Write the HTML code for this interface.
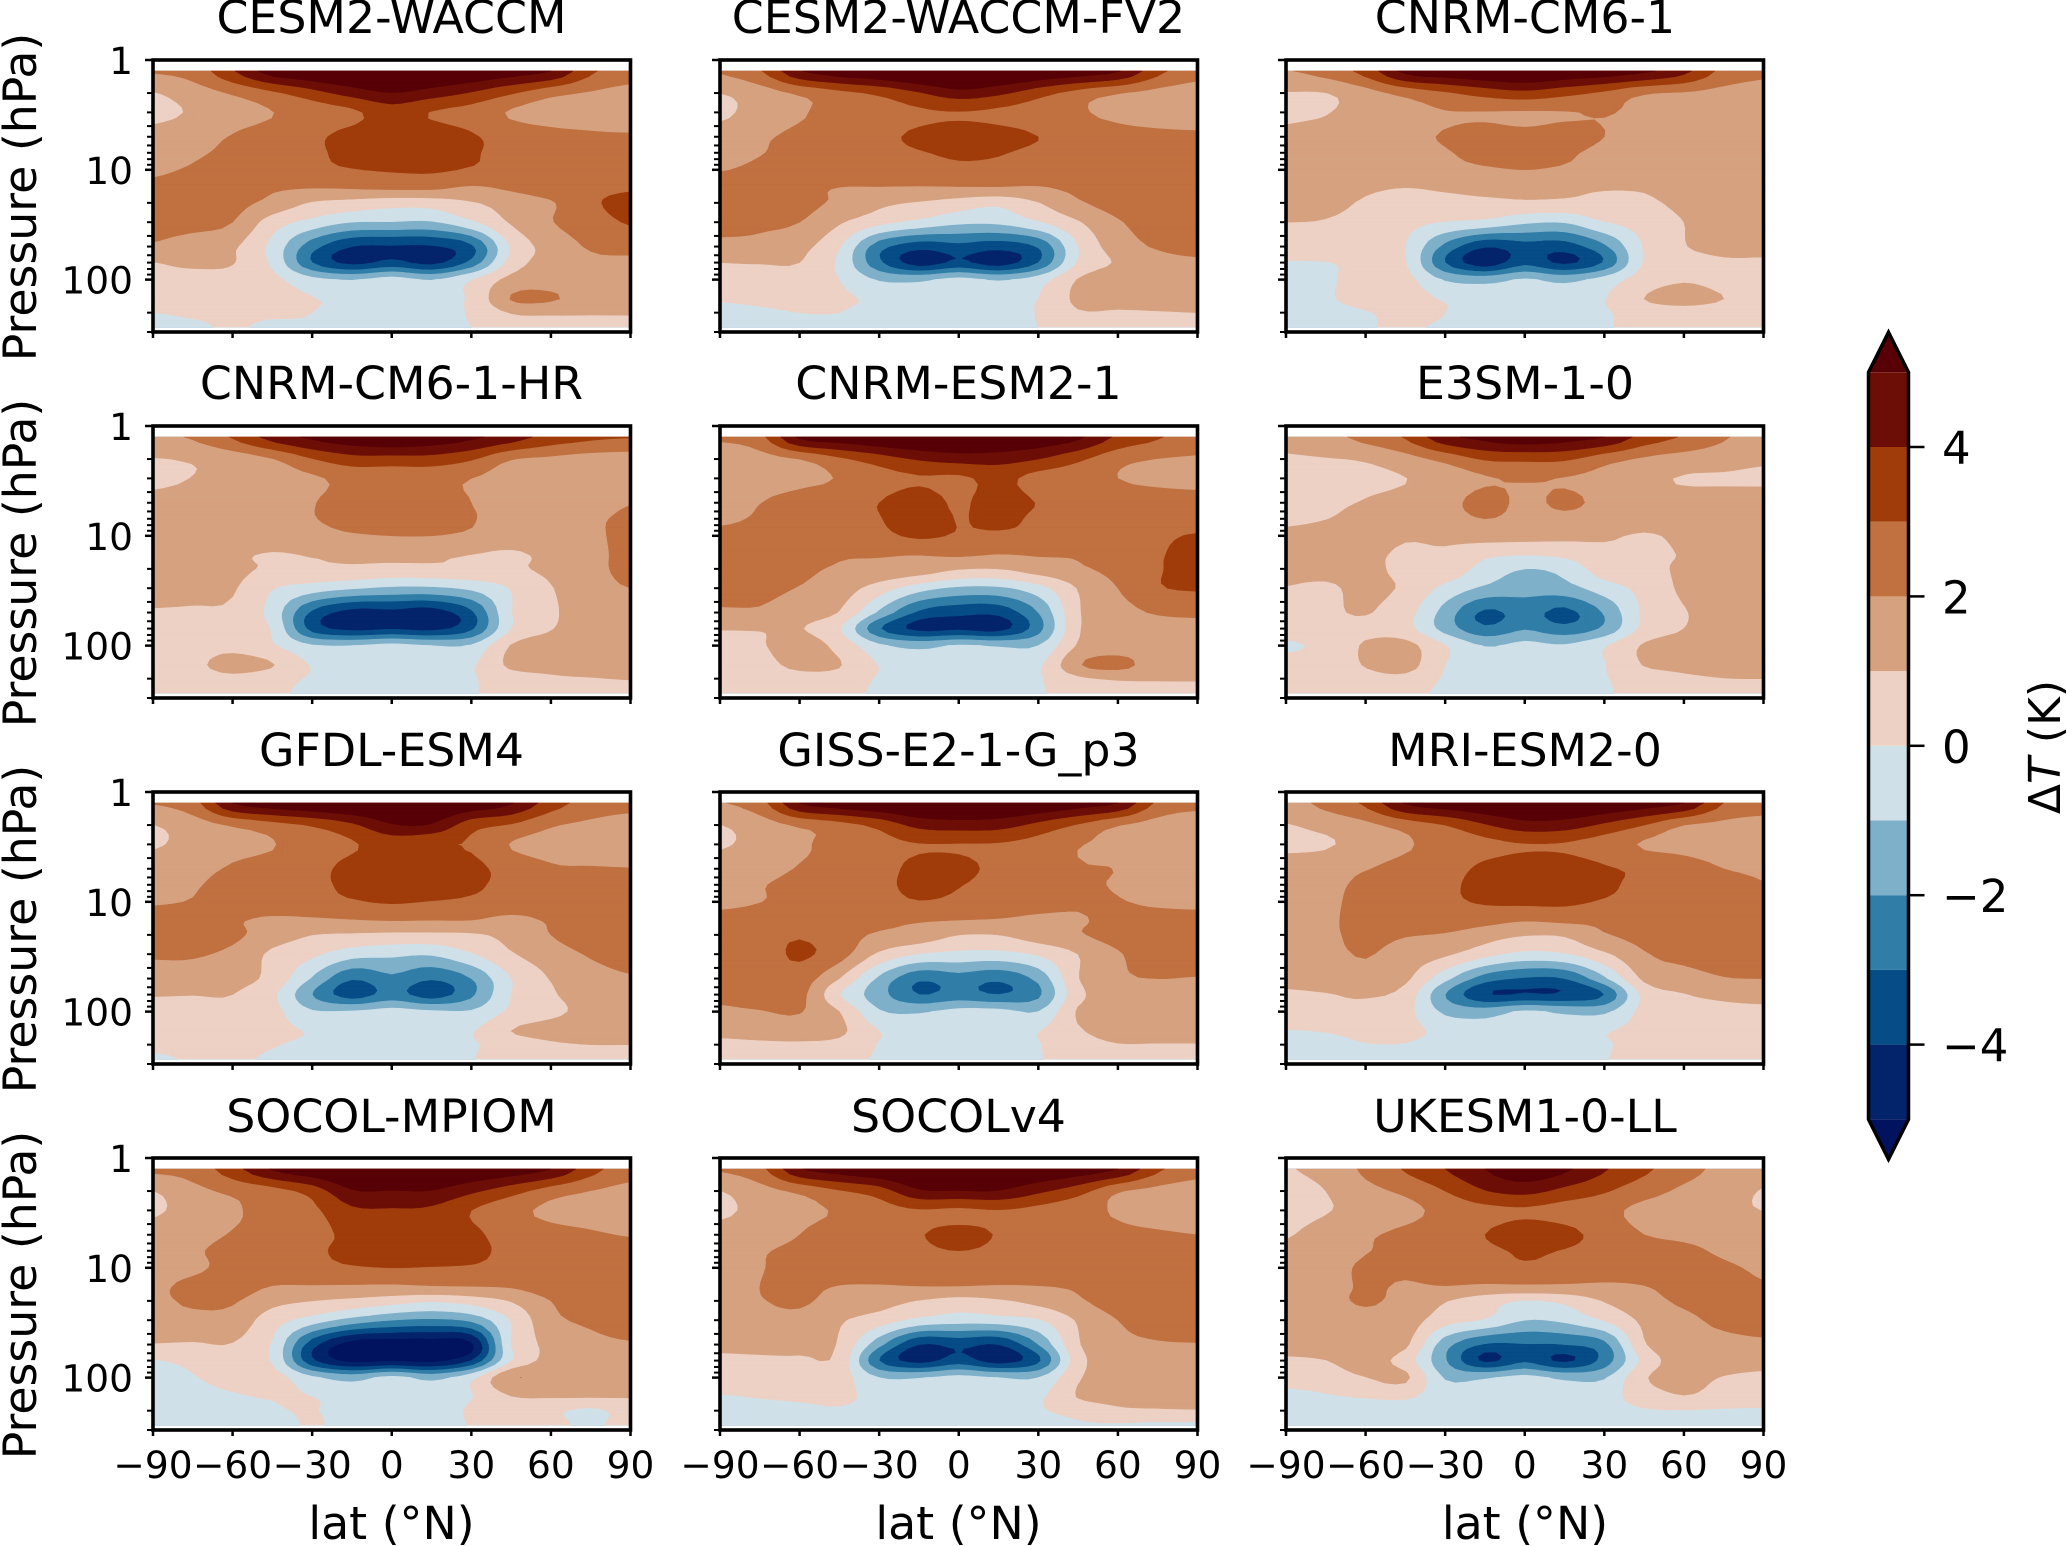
<!DOCTYPE html>
<html lang="en">
<head>
<meta charset="utf-8">
<title>Zonal-mean temperature change by model</title>
<style>
html,body{margin:0;padding:0;background:#fff;width:2067px;height:1546px;overflow:hidden}
svg{display:block}
text{font-family:"DejaVu Sans","Liberation Sans",sans-serif;fill:#000}
.title,.axis-label{font-size:45.8px}
.colorbar-title{font-size:44px}
.tick{font-size:37.5px}
.cbar-tick{font-size:45px}
</style>
</head>
<body>
<svg id="chart" width="2067" height="1546" viewBox="0 0 2067 1546">
  <g class="panel"><text class="title" x="391.5" y="33" text-anchor="middle">CESM2-WACCM</text></g>
  <g class="panel"><text class="title" x="958.5" y="33" text-anchor="middle">CESM2-WACCM-FV2</text></g>
  <g class="panel"><text class="title" x="1525" y="33" text-anchor="middle">CNRM-CM6-1</text></g>
  <g class="panel"><text class="title" x="391.5" y="399" text-anchor="middle">CNRM-CM6-1-HR</text></g>
  <g class="panel"><text class="title" x="958.5" y="399" text-anchor="middle">CNRM-ESM2-1</text></g>
  <g class="panel"><text class="title" x="1525" y="399" text-anchor="middle">E3SM-1-0</text></g>
  <g class="panel"><text class="title" x="391.5" y="766" text-anchor="middle">GFDL-ESM4</text></g>
  <g class="panel"><text class="title" x="958.5" y="766" text-anchor="middle">GISS-E2-1-G_p3</text></g>
  <g class="panel"><text class="title" x="1525" y="766" text-anchor="middle">MRI-ESM2-0</text></g>
  <g class="panel"><text class="title" x="391.5" y="1132" text-anchor="middle">SOCOL-MPIOM</text></g>
  <g class="panel"><text class="title" x="958.5" y="1132" text-anchor="middle">SOCOLv4</text></g>
  <g class="panel"><text class="title" x="1525" y="1132" text-anchor="middle">UKESM1-0-LL</text></g>

  <text class="axis-label" transform="translate(36,197) rotate(-90)" text-anchor="middle">Pressure (hPa)</text>
  <text class="axis-label" transform="translate(36,563) rotate(-90)" text-anchor="middle">Pressure (hPa)</text>
  <text class="axis-label" transform="translate(36,929) rotate(-90)" text-anchor="middle">Pressure (hPa)</text>
  <text class="axis-label" transform="translate(36,1295) rotate(-90)" text-anchor="middle">Pressure (hPa)</text>

  <text class="axis-label" x="391.5" y="1539" text-anchor="middle">lat (°N)</text>
  <text class="axis-label" x="958.5" y="1539" text-anchor="middle">lat (°N)</text>
  <text class="axis-label" x="1525" y="1539" text-anchor="middle">lat (°N)</text>

  <g id="colorbar"></g>
  <text class="colorbar-title" transform="translate(2060,747) rotate(-90)" text-anchor="middle">Δ<tspan font-style="italic">T</tspan> (K)</text>
</svg>
<script>
const latitudes = [-90,-75,-60,-45,-30,-15,0,15,30,45,60,75,90];
const pressures = [1.26,2,3,5,7,10,15,20,30,50,70,100,150,200,270];
const levels = [-5,-4,-3,-2,-1,0,1,2,3,4,5];
const bandColors = ['#01125e','#03236b','#064c86','#307ea8','#7fb0ca','#cfe0e9','#edd1c4','#d6a17f','#c17040','#a03c0a','#6d0e06','#570006'];
const xTickValues = [-90,-60,-30,0,30,60,90];
const xTickLabels = ['\u221290','\u221260','\u221230','0','30','60','90'];
const yMajorValues = [1,10,100];
const yMajorLabels = ['1','10','100'];
const yMinorValues = [2,3,4,5,6,7,8,9,20,30,40,50,60,70,80,90,200,300];
const colorbarTicks = [4,2,0,-2,-4];
const colorbarLabels = ['4','2','0','\u22122','\u22124'];

const cesm2Waccm = [
[2.1,2.4,3.9,5.5,6,6.5,7,6.5,6,5.5,5,3.2,2.4],
[.95,1.5,2.1,2.8,3.6,4.4,4.95,4.5,3.9,3.1,2.3,1.9,1.7],
[.75,1.1,1.6,1.98,2.4,2.8,3.5,2.95,2.6,1.9,1.6,1.5,1.4],
[1.3,1.6,2.05,2.4,2.8,3.3,3.5,3.5,3.1,2.6,2.3,2.15,2.1],
[1.5,1.85,2.2,2.5,2.8,3.3,3.5,3.5,3.1,2.7,2.5,2.4,2.3],
[1.85,2.1,2.4,2.6,2.75,2.95,3.1,3.15,2.9,2.7,2.55,2.5,2.6],
[2.2,2.4,2.4,2.1,1.95,1.98,2.05,2.05,1.8,2.1,2.5,2.7,2.9],
[2.4,2.5,2.3,1.7,.9,.6,.35,.4,.9,1.4,1.9,2.8,3.4],
[2.3,2.35,2,.5,-.35,-1,-1.05,-1.1,-.2,1.1,1.95,2.5,3.1],
[1.9,1.5,1.15,-.3,-2.6,-4,-4.1,-4.1,-3.2,.1,1.4,2.1,2.3],
[.98,1.2,1.05,-.2,-3,-4.3,-3.7,-4.3,-2.7,.4,1.4,1.8,1.8],
[.75,.6,.6,.25,-.7,-1.05,-.6,-1.05,-.05,1.3,1.6,1.6,1.5],
[.25,.35,.4,.3,.05,-.4,-.5,-.4,.15,2.05,2.1,1.5,1.3],
[0,.1,.1,.1,0,-.4,-.5,-.4,.1,1.05,1.15,1.1,1.1],
[-.3,-.1,.05,-.1,-.1,-.4,-.4,-.3,0,.5,.5,.5,.5]];

const cesm2WaccmFv2 = [
[2.1,2.9,4.9,5.6,6,6.5,7,6.5,6,5.6,5.1,3.3,2.4],
[1,1.5,2.15,2.7,3.2,3.9,4.6,4.2,3.4,2.6,2.05,1.7,1.5],
[.8,1.4,1.9,2.3,2.6,2.85,2.95,2.8,2.5,2.1,1.8,1.6,1.5],
[1.4,1.85,2.2,2.5,2.8,3.15,3.4,3.3,3,2.6,2.3,2.2,2.15],
[1.6,1.95,2.3,2.55,2.75,2.95,3.1,3.05,2.8,2.6,2.4,2.4,2.4],
[1.95,2.2,2.4,2.5,2.6,2.7,2.8,2.75,2.65,2.6,2.5,2.5,2.5],
[2.4,2.4,2.25,1.95,1.9,1.85,1.85,1.85,1.85,2.2,2.5,2.7,2.8],
[2.5,2.5,2.3,1.8,1.2,.9,.5,.2,.95,1.85,2.4,2.6,2.7],
[2.4,2.2,2,1.1,.3,-.3,-.8,-.8,-.1,.9,1.9,2.4,2.5],
[1.7,1.7,1.3,.1,-2.6,-3.6,-3.3,-3.6,-2.9,0,1.5,2.1,2.4],
[1,1.05,1,-.2,-2.8,-4.5,-3.8,-4.5,-3,.1,1.1,1.6,1.8],
[.6,.5,.5,0,-1.1,-1.2,-.7,-1.1,-.5,1.05,1.5,1.6,1.6],
[.1,.2,.25,.15,-.2,-.5,-.5,-.4,0,1.2,1.3,1.3,1.25],
[-.3,-.15,0,0,-.4,-.5,-.5,-.4,.05,.9,.9,.95,1],
[-.4,-.3,-.3,-.3,-.4,-.4,-.4,-.3,0,.4,.5,.5,.5]];

const cnrmCm61 = [
[1.95,2.4,3.4,5.3,5.7,6,6.2,5.9,5.6,5.2,4.3,2.7,2.2],
[.95,.98,1.6,2.3,2.85,3.4,3.7,3.3,2.8,2.1,1.9,1.7,1.6],
[.85,.95,1.4,1.7,1.95,1.95,1.9,1.95,2.05,1.8,1.6,1.5,1.45],
[1.2,1.4,1.6,1.85,2.05,2.3,2.2,2.3,2,1.8,1.7,1.6,1.6],
[1.5,1.6,1.7,1.8,1.95,2.2,2.3,2.1,1.85,1.75,1.7,1.65,1.65],
[1.7,1.75,1.75,1.75,1.8,1.9,2,1.9,1.8,1.75,1.7,1.7,1.7],
[1.6,1.5,1.15,.95,1.1,1.25,1.3,1.25,1.05,1.1,1.5,1.6,1.6],
[1.5,1.3,.9,.8,.7,.75,.8,.75,.7,.8,1.25,1.5,1.5],
[1,.95,.7,.3,-.05,-.3,-.85,-.95,-.05,.4,1,1.4,1.4],
[.9,.9,.6,0,-2.3,-3.9,-3.4,-3.5,-2.2,.1,.95,1.3,1.3],
[-.1,-.05,.3,.05,-3,-4.6,-3.3,-4.2,-2.9,.1,.6,.85,.85],
[-.3,-.15,.4,.3,-1.1,-1.4,-.9,-1.3,-.6,.5,.9,.7,.65],
[-.35,-.1,.3,.4,-.1,-.4,-.5,-.4,-.05,1,1.4,1,.7],
[-.4,-.3,-.05,.2,0,-.4,-.5,-.4,-.1,.4,.5,.5,.5],
[-.4,-.35,-.05,.05,-.1,-.4,-.4,-.4,-.1,.3,.4,.4,.4]];

const cnrmCm61Hr = [
[1.9,2.1,3.1,4.4,5.2,5.7,6,5.7,5.2,4.5,3.6,3.2,3.05],
[.95,1.1,1.4,1.95,2.95,3.6,3.6,3.6,3.1,2.05,1.8,1.6,1.5],
[.8,1.02,1.3,1.6,1.85,2.3,2.3,2.3,2,1.6,1.5,1.4,1.4],
[1.25,1.4,1.5,1.6,1.95,2.4,2.4,2.4,2,1.7,1.55,1.6,1.95],
[1.35,1.5,1.55,1.65,1.95,2.3,2.4,2.4,2.05,1.7,1.6,1.85,2.15],
[1.5,1.55,1.6,1.6,1.7,1.9,2,2,1.85,1.65,1.6,1.85,2.2],
[1.6,1.6,1.2,.9,1.05,1.15,1.2,1.15,.98,.8,1.3,1.7,2.3],
[1.6,1.55,1.25,.85,.8,.8,.7,.75,.8,.85,1.2,1.6,2.4],
[1.5,1.4,1.1,.05,-.5,-.9,-1.2,-1.2,-.8,.05,.95,1.5,2],
[.9,.85,.8,-.4,-3.2,-4.4,-4.3,-4.5,-3.2,-.05,.85,1.4,1.4],
[.7,.65,.65,-.1,-3.4,-4.3,-4.1,-4.3,-3.2,0,.95,1.4,1.5],
[.55,.6,.7,.1,-.9,-1,-.7,-1,-.9,1.05,1.4,1.5,1.5],
[.55,.75,1.4,1.05,-.1,-.5,-.6,-.5,-.15,1.2,1.3,1.4,1.35],
[.4,.5,.7,.3,-.1,-.5,-.6,-.5,-.1,.5,.85,.95,1.05],
[.4,.4,.4,.15,-.2,-.5,-.5,-.5,-.1,.4,.45,.45,.5]];

const cnrmEsm21 = [
[2.2,2.7,5.2,5.6,6,6.3,6.5,6.2,5.8,5.2,3.8,3.1,2.5],
[1.05,1.6,2,2.8,3.5,4.1,4.4,4.4,4,3.2,2.3,1.98,1.9],
[1.3,1.6,1.8,2.05,2.6,2.9,2.8,3.3,2.6,2.4,2,1.8,1.75],
[1.5,1.98,2.3,2.6,3,3.5,2.85,3.5,2.95,2.7,2.5,2.4,2.3],
[1.85,2.1,2.4,2.6,2.95,3.5,2.95,3.3,2.8,2.7,2.5,2.45,2.4],
[2.2,2.3,2.5,2.6,2.75,3.15,2.9,2.8,2.8,2.7,2.7,2.8,3.1],
[2.6,2.6,2.4,2.1,2.05,2,2.1,1.95,2.05,2.1,2.5,2.9,3.4],
[2.7,2.6,2.2,1.9,1.8,1.6,1.05,1,1.5,1.85,2.3,2.9,3.5],
[2.6,2.3,1.95,1.5,.5,-.6,-1.2,-1.2,-.4,1.05,2,2.9,3.1],
[1.8,1.85,1.4,.95,-1.2,-3.2,-3.7,-3.7,-2,.9,1.6,2.1,2.2],
[1.05,1.05,1.05,.1,-2.9,-4.3,-4.2,-4.4,-2.4,.9,1.4,1.6,1.7],
[.6,.9,1.4,.7,-.8,-1.3,-.9,-1.1,-1,1.1,1.5,1.5,1.5],
[.5,.7,1.2,1.05,-.05,-.5,-.6,-.5,-.2,1.9,2.3,1.5,1.4],
[.35,.5,.7,.6,-.1,-.4,-.5,-.4,-.1,.8,1.1,1.1,1.1],
[.4,.4,.4,.4,-.2,-.4,-.4,-.4,-.1,.4,.5,.5,.5]];

const e3sm10 = [
[1.3,1.7,2.3,3.1,4.7,5.3,5.7,5.4,5,3.6,2.9,2.1,1.6],
[.9,.95,1.1,1.6,2.3,3.1,3.2,3.15,2.4,1.85,1.55,1.4,1.15],
[.75,.7,.8,.98,1.4,1.9,2.1,1.95,1.7,1.2,.95,.9,.85],
[.75,.85,1.05,1.3,1.6,2.4,1.75,2.2,1.7,1.3,1.3,1.35,1.4],
[.85,.98,1.25,1.45,1.6,2,1.7,1.7,1.6,1.45,1.4,1.45,1.5],
[1.15,1.3,1.4,1.1,1.2,1.4,1.35,1.25,1.15,.9,1.2,1.4,1.45],
[1.2,1.25,1.2,.85,.85,.2,0,.2,.7,.8,1.05,1.3,1.4],
[1.15,1.2,1.2,.8,.7,-.4,-1,-.7,.5,.7,1.15,1.3,1.35],
[.98,.9,1.15,.85,-.3,-1.2,-1.6,-1.4,-.5,.3,1.15,1.25,1.3],
[.8,.85,1.05,.4,-1.4,-3.2,-2.6,-3.3,-1.9,.2,.95,1.25,1.25],
[.7,.7,.75,.35,-1.4,-2.8,-2.1,-2.7,-1.8,.3,1,1.3,1.3],
[-.2,.3,1.1,1.3,.05,-1.05,-.7,-.9,-.1,1.1,1.3,1.35,1.3],
[.5,.55,1.05,1.4,0,-.5,-.6,-.5,-.05,1.05,1.25,1.3,1.3],
[.5,.55,.7,.7,-.1,-.3,-.5,-.3,-.05,.4,.8,.98,1],
[.5,.5,.5,.3,-.2,-.4,-.5,-.4,-.1,.3,.4,.5,.5]];

const gfdlEsm4 = [
[2.05,2.6,5,5.6,6,6.3,6.4,6.2,5.8,5.1,3.5,2.6,2.3],
[.98,1.5,2.1,2.6,3.1,3.8,4.9,4.9,3.4,2.9,2.1,1.8,1.6],
[.9,1.3,1.7,1.95,2.5,2.9,3.4,3.05,2.9,1.95,1.7,1.6,1.5],
[1.45,1.7,2.1,2.4,2.7,3.3,3.8,3.8,3.3,2.6,2.1,2.05,2.02],
[1.6,1.9,2.3,2.5,2.8,3.2,3.7,3.7,3.2,2.7,2.4,2.3,2.3],
[1.9,2.05,2.4,2.55,2.7,2.9,3.1,2.95,2.8,2.6,2.5,2.4,2.4],
[2.4,2.4,2.1,1.8,1.8,1.9,1.97,1.95,1.95,1.7,2.1,2.5,2.7],
[2.5,2.4,2.2,1.5,1,.85,.75,.75,.85,1.3,2,2.6,2.75],
[2.1,2.1,1.75,.8,.2,-.6,-.8,-.9,-.1,.9,1.5,2.1,2.4],
[1.6,1.5,1.3,.7,-1.1,-2.9,-2.2,-2.9,-2,0,1.05,1.6,1.9],
[1.05,1.02,1,.2,-2,-3.5,-2.6,-3.5,-2.2,0,.9,1.3,1.4],
[.7,.65,.7,.3,-.9,-.9,-.65,-.85,-.9,.2,.8,1.2,1.25],
[.5,.5,.45,.25,-.1,-.5,-.6,-.5,-.1,1,1.3,1.3,1.3],
[.3,.3,.25,.05,-.2,-.5,-.6,-.5,-.1,.4,.85,1,1],
[-.2,.1,.1,-.1,-.3,-.4,-.5,-.4,-.05,.4,.4,.4,.4]];

const gissE21Gp3 = [
[1.95,2.6,5,5.6,6,6.3,6.5,6.3,6,5.5,5,2.8,2.3],
[.98,1.5,2.15,2.6,3.3,4.3,4.5,4.4,3.7,2.9,2.05,1.6,1.3],
[.9,1.3,1.85,2.3,2.7,2.95,2.95,2.9,2.6,2.05,1.8,1.5,.98],
[1.45,1.7,2.05,2.3,2.6,3.3,3.3,2.7,2.4,2.05,1.98,1.6,1.5],
[1.7,1.95,2.2,2.4,2.7,3.3,3.05,2.6,2.3,2.1,1.95,1.7,1.6],
[1.8,1.98,2.25,2.4,2.6,2.95,2.75,2.5,2.3,2.1,2.05,1.8,1.6],
[2.3,2.4,2.4,2.3,2.2,2.05,1.95,1.9,1.8,1.9,2.3,2.5,2.6],
[2.5,2.6,2.9,2.4,1.85,1.6,1,1,1.5,1.9,2.4,2.7,2.8],
[2.6,2.5,3.15,2.4,.8,-.05,-.3,-.35,.1,1,1.9,2.5,2.6],
[2.3,2.5,2.5,1,-1.2,-2.8,-2.4,-2.8,-1.7,.95,1.85,2,1.95],
[2.15,2.3,2.3,.05,-1.6,-3,-2.6,-3,-2.2,.7,1.5,1.7,1.7],
[1.85,1.95,2.05,1,-.9,-1.1,-.7,-.7,-1,1.1,1.2,1.3,1.4],
[1.25,1.35,1.5,1.2,0,-.5,-.5,-.5,-.05,.9,1.3,1.3,1.3],
[.8,.85,.85,.7,-.05,-.4,-.5,-.4,-.05,.6,.95,.95,.95],
[.5,.5,.5,.3,-.1,-.4,-.4,-.4,-.05,.3,.35,.3,.2]];

const mriEsm20 = [
[1.6,2.3,3.2,5.1,5.6,6,6.3,6.3,6,5.5,5,3,2.5],
[.95,1.3,1.75,2.4,3,3.9,4.6,4.5,3.8,3,2,1.75,1.6],
[.8,.9,1.4,1.9,2.3,2.7,2.95,2.9,2.5,1.9,1.7,1.55,1.45],
[1.4,1.6,1.95,2.3,2.6,3.2,3.5,3.5,3.1,2.8,2.4,2,1.9],
[1.5,1.75,2.2,2.5,2.8,3.3,3.6,3.6,3.2,2.7,2.4,2.2,2.03],
[1.65,1.8,2.3,2.5,2.8,3.1,3.2,3.2,2.9,2.7,2.5,2.4,2.3],
[1.7,1.85,2.3,2.4,2.5,2.3,2,2.15,2.2,2.5,2.6,2.7,2.7],
[1.7,1.85,2.2,2.05,1.9,1.4,1.05,1.1,1.9,2.3,2.6,2.7,2.7],
[1.6,1.75,2.05,1.6,1.15,.3,-.3,-.1,.8,1.9,2.3,2.5,2.6],
[1.2,1.4,1.7,1.2,-.7,-2.5,-3.1,-3,-1.2,1.2,1.6,1.95,2],
[.9,.95,1.1,.6,-2,-3.9,-3.95,-3.9,-3,.3,.95,1.2,1.3],
[.7,.7,.7,.3,-1.2,-1.5,-.85,-1.2,-1.2,.3,.6,.75,.8],
[-.05,.05,.3,.3,-.3,-.5,-.6,-.5,-.1,.3,.4,.45,.45],
[-.3,-.3,-.05,-.05,-.4,-.5,-.6,-.5,-.1,.3,.3,.3,.3],
[-.4,-.4,-.4,-.4,-.4,-.5,-.5,-.4,-.05,.3,.3,.2,.3]];

const socolMpiom = [
[2.2,2.4,3.6,5.1,5.8,6.4,6.6,6.5,6,5.6,5,3.4,2.4],
[.98,1.7,2.2,2.6,3.4,4.9,4.95,4.95,4.2,3.4,2.5,1.98,1.7],
[.9,1.3,1.85,2.4,2.8,3.8,3.9,3.8,3,2.3,1.8,1.6,1.5],
[1.3,1.7,2.05,2.3,2.6,3.3,3.6,3.6,3.2,2.6,2.3,2.1,1.95],
[1.5,1.9,2.2,2.5,2.8,3.3,3.5,3.5,3.2,2.8,2.5,2.3,2.2],
[1.7,1.85,2.25,2.5,2.7,2.9,3,2.95,2.9,2.7,2.5,2.4,2.3],
[1.85,2.2,2.4,1.95,1.9,1.85,1.8,1.9,1.95,2.05,2.5,2.7,2.8],
[1.85,2.1,2.1,1.3,1,.7,.4,.1,.4,1.05,2,2.7,2.9],
[1.7,1.75,1.6,.45,-.5,-1.4,-2,-2.2,-1.8,.05,1.7,2.2,2.6],
[.95,.9,.95,-.1,-3.6,-5.5,-5.6,-5.6,-5.2,0,1.2,1.7,1.9],
[-.05,.2,.45,-.1,-3.8,-5.3,-5.1,-5.3,-4,-.05,1.3,1.5,1.6],
[-.3,-.05,.3,.4,-.8,-1.4,-.7,-1.3,-.3,1.95,1.45,1.5,1.5],
[-.4,-.3,-.1,.05,0,-.5,-.6,-.5,-.05,.95,1.05,1.05,1.05],
[-.4,-.4,-.3,-.1,.05,-.4,-.5,-.4,.1,.5,.2,-.2,.4],
[-.4,-.4,-.4,-.4,.1,-.4,-.5,-.4,.05,.4,.3,-.2,.5]];

const socolV4 = [
[2.1,2.7,4.9,5.5,6,6.4,6.6,6.4,6,5.6,5,3.2,2.4],
[.98,1.6,2.2,2.9,3.5,4.85,4.95,4.95,4.2,3.4,2.1,1.7,1.5],
[.9,1.2,1.75,2.1,2.6,2.9,2.8,2.95,2.7,2.3,1.9,1.6,1.55],
[1.2,1.5,2,2.4,2.7,2.95,3.25,2.95,2.7,2.5,2.2,2.1,2],
[1.5,1.9,2.2,2.4,2.65,2.85,3,2.85,2.7,2.5,2.35,2.3,2.2],
[1.7,1.95,2.3,2.4,2.55,2.65,2.6,2.6,2.55,2.4,2.4,2.4,2.4],
[1.8,2,2.2,1.95,1.9,1.95,1.95,1.9,1.95,2.1,2.5,2.6,2.7],
[1.75,1.95,2.15,1.6,1.35,.95,.6,.85,1.3,1.85,2.5,2.7,2.8],
[1.7,1.7,1.7,1.1,.5,-.3,-.6,-.5,-.1,1.1,2,2.5,2.6],
[1.25,1.3,1.35,.9,-1.7,-4,-3.7,-4,-2,.9,1.7,1.9,1.95],
[.8,.85,.85,.7,-3,-4.4,-3.5,-4.5,-3.2,.6,1.4,1.6,1.6],
[.65,.7,.7,.45,-1,-1.05,-.7,-1,-1,.9,1.4,1.5,1.5],
[-.1,.05,.15,.2,-.3,-.5,-.6,-.5,-.2,1.05,1.3,1.3,1.25],
[-.4,-.3,-.2,-.1,-.3,-.5,-.5,-.5,-.1,.3,.8,.9,.95],
[-.4,-.4,-.4,-.4,-.4,-.5,-.5,-.5,-.4,-.1,-.1,-.2,-.2]];

const ukesm10Ll = [
[.95,1.3,2.2,3.1,4,5,5.8,5.2,4.1,3.2,2.4,1.7,1.3],
[.7,1,1.7,2.2,3,3.95,4.3,3.7,3.1,2.4,1.8,1.4,.95],
[.75,.95,1.3,1.7,2.3,2.7,2.85,2.6,2.3,1.7,1.5,1.3,.98],
[.95,1.3,1.85,2.2,2.5,3,3.5,3.3,2.6,2,1.8,1.7,1.6],
[1.1,1.4,1.95,2.2,2.5,2.8,3.1,2.95,2.6,2.4,2.2,1.85,1.6],
[1.3,1.6,2.15,2.15,2.5,2.7,2.85,2.7,2.5,2.5,2.4,2.15,1.85],
[1.4,1.65,2.1,1.9,1.95,1.8,1.8,1.8,1.8,1.95,2.4,2.4,2.1],
[1.4,1.7,2.1,1.7,1.05,.4,-.05,.2,1.05,1.6,2.2,2.5,2.6],
[1.4,1.5,1.7,1.5,.4,-.1,-1,-.8,.05,1.2,1.7,2.3,2.6],
[1.35,1.4,1.5,1.2,-1.6,-3.1,-3.05,-3,-2.3,.9,1.45,1.6,1.75],
[.85,.98,1.4,.5,-1.9,-4.2,-3.2,-4.2,-2.6,.3,1.5,1.4,1.3],
[.4,.5,.97,1.2,-1.1,-1.1,-.7,-1.2,-1.1,.9,1.3,.95,.8],
[-.3,-.1,.05,.1,-.4,-.6,-.6,-.6,-.4,.5,.95,.6,.4],
[-.5,-.5,-.3,-.2,-.4,-.5,-.5,-.5,-.4,-.1,-.05,-.1,-.1],
[-.4,-.4,-.4,-.4,-.4,-.4,-.4,-.4,-.4,-.4,-.4,-.4,-.4]];

const fields = [cesm2Waccm,cesm2WaccmFv2,cnrmCm61,cnrmCm61Hr,cnrmEsm21,e3sm10,gfdlEsm4,gissE21Gp3,mriEsm20,socolMpiom,socolV4,ukesm10Ll];

const svg = document.getElementById('chart');
const NS = svg.namespaceURI;
const columnLefts = [153,720,1286];
const rowTops = [60,426,792,1158];
const panelWidth = 477.5;
const panelHeight = 272;
const PRESSURE_MAX = 300;
const SUB = 4;

function make(tag, attrs, parent){
  const el = document.createElementNS(NS, tag);
  for (const k in attrs) el.setAttribute(k, attrs[k]);
  parent.appendChild(el);
  return el;
}
function xScale(lat, left){ return left + (lat + 90) / 180 * panelWidth; }
function yScale(p, top){ return top + Math.log10(p) / Math.log10(PRESSURE_MAX) * panelHeight; }

function catmull(a,b,c,d,t){
  return 0.5*((2*b)+(-a+c)*t+(2*a-5*b+4*c-d)*t*t+(-a+3*b-3*c+d)*t*t*t);
}
function resampleLine(line){
  const out=[];
  for(let i=0;i<line.length-1;i++){
    const a=line[Math.max(i-1,0)],b=line[i],c=line[i+1],d=line[Math.min(i+2,line.length-1)];
    for(let s=0;s<SUB;s++) out.push(catmull(a,b,c,d,s/SUB));
  }
  out.push(line[line.length-1]);
  return out;
}
function resampleField(field){
  const horizontal = field.map(resampleLine);
  const width = horizontal[0].length;
  const cols = [];
  for(let i=0;i<width;i++) cols.push(resampleLine(horizontal.map(r=>r[i])));
  const out=[];
  for(let j=0;j<cols[0].length;j++){ out.push(cols.map(c=>c[j])); }
  return out;
}
function fineAxis(px){
  const out=[];
  for(let i=0;i<px.length-1;i++){
    for(let s=0;s<SUB;s++) out.push(px[i]+(px[i+1]-px[i])*s/SUB);
  }
  out.push(px[px.length-1]);
  return out;
}
function clipCell(pts, level){
  const res=[];
  for(let i=0;i<pts.length;i++){
    const p=pts[i], q=pts[(i+1)%pts.length];
    if(p[2]>=level) res.push(p);
    if((p[2]>=level)!==(q[2]>=level)){
      const t=(level-p[2])/(q[2]-p[2]);
      res.push([p[0]+(q[0]-p[0])*t,p[1]+(q[1]-p[1])*t,level]);
    }
  }
  return res;
}
function bandPath(vals,xs,ys,level){
  const parts=[];
  for(let j=0;j<ys.length-1;j++){
    let run=-1;
    const flush=(end)=>{
      if(run>=0){
        parts.push('M'+xs[run].toFixed(1)+' '+ys[j].toFixed(1)+'H'+xs[end].toFixed(1)+'V'+ys[j+1].toFixed(1)+'H'+xs[run].toFixed(1)+'Z');
        run=-1;
      }
    };
    for(let i=0;i<xs.length-1;i++){
      const a=vals[j][i],b=vals[j][i+1],c=vals[j+1][i+1],d=vals[j+1][i];
      const n=(a>=level)+(b>=level)+(c>=level)+(d>=level);
      if(n===4){ if(run<0) run=i; continue; }
      flush(i);
      if(n>0){
        const poly=clipCell([[xs[i],ys[j],a],[xs[i+1],ys[j],b],[xs[i+1],ys[j+1],c],[xs[i],ys[j+1],d]],level);
        if(poly.length>2){
          parts.push('M'+poly.map(p=>p[0].toFixed(1)+' '+p[1].toFixed(1)).join('L')+'Z');
        }
      }
    }
    flush(xs.length-1);
  }
  return parts.join('');
}

const panels = document.querySelectorAll('g.panel');
fields.forEach((field,idx)=>{
  const col = idx % 3;
  const row = Math.floor(idx / 3);
  const left = columnLefts[col];
  const top = rowTops[row];
  const g = panels[idx];
  const xs = fineAxis(latitudes.map(l=>xScale(l,left)));
  const ys = fineAxis(pressures.map(p=>yScale(p,top)));
  const vals = resampleField(field);

  const base = make('rect',{x:xs[0],y:ys[0],width:xs[xs.length-1]-xs[0],height:ys[ys.length-1]-ys[0],fill:bandColors[0]},g);
  
  
  levels.forEach((level,k)=>{
    const band = make('path',{d:bandPath(vals,xs,ys,level),fill:bandColors[k+1],stroke:bandColors[k+1],'stroke-width':0.5,'stroke-linejoin':'round'},g);
    
    
  });

  const frame = make('rect',{x:left,y:top,width:panelWidth,height:panelHeight,fill:'none',stroke:'#000','stroke-width':3.6},g);
  
  

  xTickValues.forEach((v,i)=>{
    const x = xScale(v,left);
    const tick = make('line',{x1:x,x2:x,y1:top+panelHeight,y2:top+panelHeight+6,stroke:'#000','stroke-width':2.5},g);
    
    
    if(row===3){
      const label = make('text',{class:'tick',x:x,y:1478,'text-anchor':'middle'},g);
      
      
      label.textContent = xTickLabels[i];
    }
  });
  yMajorValues.forEach((v,i)=>{
    const y = yScale(v,top);
    const tick = make('line',{x1:left-8,x2:left,y1:y,y2:y,stroke:'#000','stroke-width':2.5},g);
    
    
    if(col===0){
      const label = make('text',{class:'tick',x:left-20,y:y+14,'text-anchor':'end'},g);
      
      
      label.textContent = yMajorLabels[i];
    }
  });
  yMinorValues.forEach(v=>{
    const y = yScale(v,top);
    const tick = make('line',{x1:left-6,x2:left,y1:y,y2:y,stroke:'#000','stroke-width':2},g);
    
    
  });
});

/* colour bar */
const cb = document.getElementById('colorbar');
const cbLeft = 1868.5, cbRight = 1908.5, cbMid = 1888.5;
const cbZero = 745.8, cbPerK = 74.7, cbTipLength = 40;
function cbY(v){ return cbZero - v * cbPerK; }
const lowArrow = make('polygon',{points:cbLeft+','+cbY(-5)+' '+cbRight+','+cbY(-5)+' '+cbMid+','+(cbY(-5)+cbTipLength),fill:bandColors[0]},cb);


const highArrow = make('polygon',{points:cbLeft+','+cbY(5)+' '+cbRight+','+cbY(5)+' '+cbMid+','+(cbY(5)-cbTipLength),fill:bandColors[bandColors.length-1]},cb);


for(let k=0;k<levels.length-1;k++){
  const seg = make('rect',{x:cbLeft,y:cbY(levels[k+1]),width:cbRight-cbLeft,height:cbY(levels[k])-cbY(levels[k+1]),fill:bandColors[k+1]},cb);
  
  
}
const outline = make('polygon',{points:[[cbLeft,cbY(5)],[cbMid,cbY(5)-cbTipLength],[cbRight,cbY(5)],[cbRight,cbY(-5)],[cbMid,cbY(-5)+cbTipLength],[cbLeft,cbY(-5)]].map(p=>p.join(',')).join(' '),fill:'none',stroke:'#000','stroke-width':3.5},cb);


colorbarTicks.forEach((v,i)=>{
  const y = cbY(v);
  const tick = make('line',{x1:cbRight,x2:cbRight+16,y1:y,y2:y,stroke:'#000','stroke-width':2.5},cb);
  
  
  const label = make('text',{class:'cbar-tick',x:1942,y:y+17},cb);
  
  
  label.textContent = colorbarLabels[i];
});
</script>
</body>
</html>
